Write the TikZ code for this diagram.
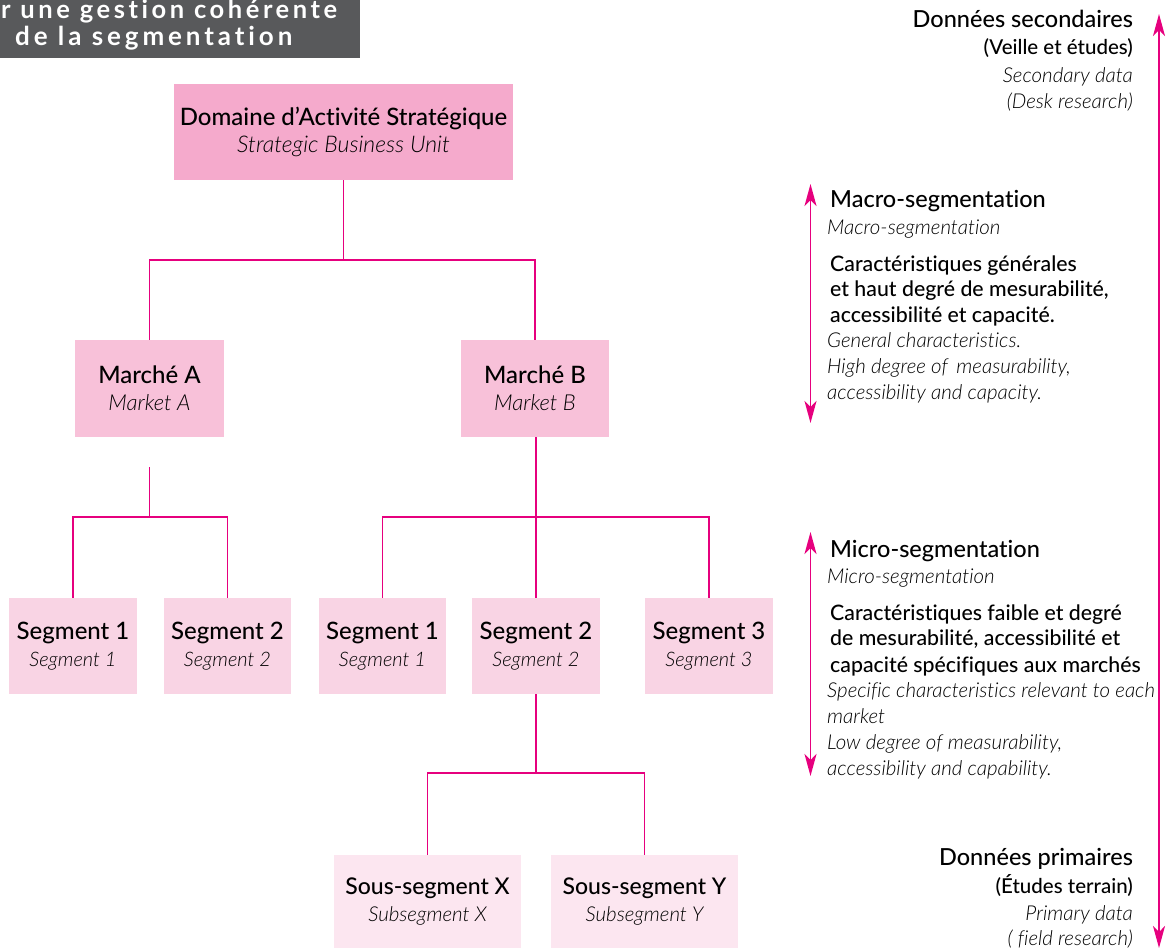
\documentclass[tikz,border=0pt]{standalone}
\usepackage{fontspec}
\setmainfont{Lato}[UprightFont=* Medium, ItalicFont=* Light Italic, BoldFont=* Bold, Ligatures=NoCommon]
\usetikzlibrary{arrows.meta,calc}
\definecolor{mag}{HTML}{E6007E}
\definecolor{dasfill}{HTML}{F5AACC}
\definecolor{mkfill}{HTML}{F8C1D9}
\definecolor{segfill}{HTML}{F9D4E4}
\definecolor{subfill}{HTML}{FCE6F0}
\definecolor{titlebg}{HTML}{58595B}
\newcommand\enit[2][20]{{\fontsize{#1}{27}\selectfont\itshape #2}}
\begin{document}
\begin{tikzpicture}[x=1pt,y=-1pt,
  box/.style={inner sep=0pt, align=center, font=\fontsize{24}{27}\selectfont},
  conn/.style={draw=mag, line width=1.5pt},
  arr/.style={draw=mag, line width=1.5pt,
    {Stealth[length=22pt,width=12pt,inset=6pt]}-{Stealth[length=22pt,width=12pt,inset=6pt]}},
  hd/.style={inner sep=0pt, font=\fontsize{23.5}{26}\selectfont},
  md/.style={inner sep=0pt, font=\fontsize{21.3}{24}\selectfont},
  sm/.style={inner sep=0pt, font=\fontsize{20.5}{24}\selectfont},
  it/.style={inner sep=0pt, font=\fontsize{20.5}{24}\selectfont\itshape},
  ttl/.style={inner sep=0pt, text=white, font=\fontsize{26}{30}\selectfont\bfseries\addfontfeature{LetterSpace=15}},
  ttla/.style={inner sep=0pt, text=white, font=\fontsize{25.5}{30}\selectfont\bfseries\addfontfeature{LetterSpace=14}}
]
\useasboundingbox (0,0) rectangle (1167,950);
% title
\begin{scope}
\clip (0,0) rectangle (360,58);
\fill[titlebg] (0,0) rectangle (360,58);
\node[ttla, anchor=base west] (t1) at (1,19) {r une gestion cohérente};
\node[ttl, anchor=base west] (t2) at (15,46) {de la segmentation};
\end{scope}
% boxes
\node[box, fill=dasfill, minimum width=339pt, minimum height=96pt] (das) at (343.5,132) {Domaine d’Activité Stratégique\\\enit[23]{Strategic Business Unit}};
\node[box, fill=mkfill, minimum width=149pt, minimum height=97pt] (ma) at (149.5,388.5) {Marché A\\\enit[22]{Market A}};
\node[box, fill=mkfill, minimum width=148pt, minimum height=97pt] (mb) at (535,388.5) {Marché B\\\enit[22]{Market B}};
\node[box, fill=segfill, minimum width=128pt, minimum height=96pt] (s1) at (73,646) {Segment 1\\\enit{Segment 1}};
\node[box, fill=segfill, minimum width=127pt, minimum height=96pt] (s2) at (227.5,646) {Segment 2\\\enit{Segment 2}};
\node[box, fill=segfill, minimum width=127pt, minimum height=96pt] (s3) at (382.5,646) {Segment 1\\\enit{Segment 1}};
\node[box, fill=segfill, minimum width=128pt, minimum height=96pt] (s4) at (536,646) {Segment 2\\\enit{Segment 2}};
\node[box, fill=segfill, minimum width=128pt, minimum height=96pt] (s5) at (709,646) {Segment 3\\\enit{Segment 3}};
\node[box, fill=subfill, minimum width=187pt, minimum height=93pt, font=\fontsize{23}{27}\selectfont] (ssx) at (427.5,901.5) {Sous-segment X\\\enit[20.5]{Subsegment X}};
\node[box, fill=subfill, minimum width=187pt, minimum height=93pt, font=\fontsize{23}{27}\selectfont] (ssy) at (644.5,901.5) {Sous-segment Y\\\enit[20.5]{Subsegment Y}};
% connectors
\coordinate (j1) at (das.south |- 0,260);
\draw[conn] (das.south) -- (j1);
\draw[conn] (ma.north) |- (j1) -| (mb.north);
\coordinate (maj) at ($(ma.south)+(0,30)$);
\coordinate (j2) at (maj |- 0,517);
\draw[conn] (maj) -- (j2);
\draw[conn] (s1.north) |- (j2) -| (s2.north);
\coordinate (j3) at (s4.north |- 0,517);
\draw[conn] (mb.south -| s4.north) -- (s4.north);
\draw[conn] (s3.north) |- (j3) -| (s5.north);
\coordinate (j4) at (s4.south |- 0,773);
\draw[conn] (s4.south) -- (j4);
\draw[conn] (ssx.north) |- (j4) -| (ssy.north);
% arrows
\coordinate (bt) at (1159,14);
\coordinate (bb) at (1159,948);
\draw[arr] (bt) -- (bb);
\coordinate (mat) at (810.5,184);
\coordinate (mab) at (810.5,423);
\draw[arr] (mat) -- (mab);
\coordinate (mit) at (810.5,532);
\coordinate (mib) at (810.5,776);
\draw[arr] (mit) -- (mib);
% top right
\node[hd, anchor=base east] (d1) at (1133,28) {Données secondaires};
\node[sm, anchor=base east] (d2) at (1133,55) {(Veille et études)};
\node[it, anchor=base east] (d3) at (1133,82) {Secondary data};
\node[it, anchor=base east] (d4) at (1133,108) {(Desk research)};
% macro
\node[hd, anchor=base west] (ma1) at (830,207) {Macro-segmentation};
\node[it, anchor=base west] (ma2) at (827,234) {Macro-segmentation};
\node[md, anchor=base west] (ma3) at (830,271) {Caractéristiques générales};
\node[md, anchor=base west] (ma4) at (830,296) {et haut degré de mesurabilité,};
\node[md, anchor=base west] (ma5) at (830,322) {accessibilité et capacité.};
\node[it, anchor=base west] (ma6) at (827,347) {General characteristics.};
\node[it, anchor=base west] (ma7) at (827,373) {High degree of\, measurability,};
\node[it, anchor=base west] (ma8) at (827,399) {accessibility and capacity.};
% micro
\node[hd, anchor=base west] (mi1) at (830,557) {Micro-segmentation};
\node[it, anchor=base west] (mi2) at (827,583) {Micro-segmentation};
\node[md, anchor=base west] (mi3) at (830,620) {Caractéristiques faible et degré};
\node[md, anchor=base west] (mi4) at (830,645) {de mesurabilité, accessibilité et};
\node[md, anchor=base west] (mi5) at (830,672) {capacité spécifiques aux marchés};
\node[it, anchor=base west] (mi6) at (827,697) {Specific characteristics relevant to each};
\node[it, anchor=base west] (mi7) at (827,723) {market};
\node[it, anchor=base west] (mi8) at (827,749) {Low degree of measurability,};
\node[it, anchor=base west] (mi9) at (827,775) {accessibility and capability.};
% bottom right
\node[hd, anchor=base east] (p1) at (1133,865) {Données primaires};
\node[sm, anchor=base east] (p2) at (1133,893) {(Études terrain)};
\node[it, anchor=base east] (p3) at (1133,920) {Primary data};
\node[it, anchor=base east] (p4) at (1133,945) {( field research)};
\end{tikzpicture}
\end{document}
